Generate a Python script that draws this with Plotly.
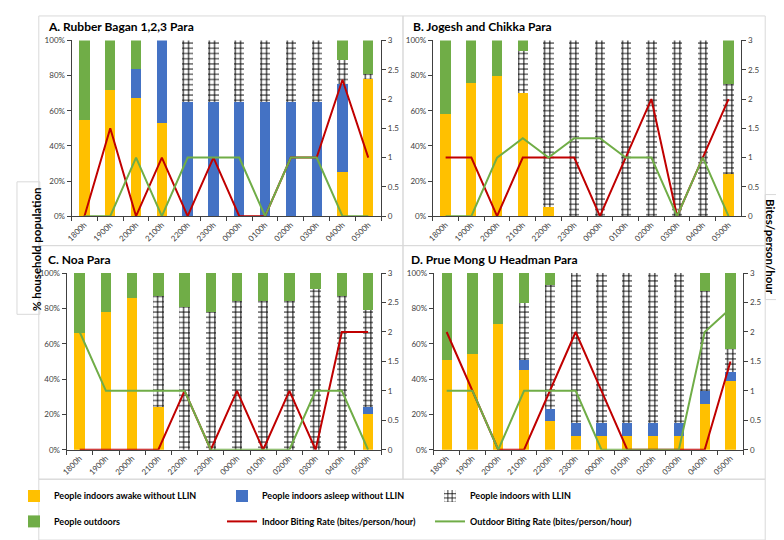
import plotly.graph_objects as go

hours = ["1800h", "1900h", "2000h", "2100h", "2200h", "2300h",
         "0000h", "0100h", "0200h", "0300h", "0400h", "0500h"]

# Panel A. Rubber Bagan 1,2,3 Para (fractions of household population)
a_awake = [0.55, 0.72, 0.67, 0.53, 0, 0, 0, 0, 0, 0, 0.25, 0.78]
a_asleep = [0, 0, 0.17, 0.47, 0.65, 0.65, 0.65, 0.65, 0.65, 0.65, 0.50, 0]
a_llin = [0, 0, 0, 0, 0.35, 0.35, 0.35, 0.35, 0.35, 0.35, 0.14, 0.03]
a_out = [0.45, 0.28, 0.16, 0, 0, 0, 0, 0, 0, 0, 0.11, 0.19]
a_indoor = [0, 1.5, 0, 1, 0, 1, 0, 0, 1, 1, 2.33, 1]
a_outdoor = [0, 0, 1, 0, 1, 1, 1, 0, 1, 1, 0, 0]

# Panel B. Jogesh and Chikka Para
b_awake = [0.58, 0.76, 0.80, 0.70, 0.05, 0, 0, 0, 0, 0, 0, 0.24]
b_asleep = [0] * 12
b_llin = [0, 0, 0, 0.24, 0.95, 1, 1, 1, 1, 1, 1, 0.51]
b_out = [0.42, 0.24, 0.20, 0.06, 0, 0, 0, 0, 0, 0, 0, 0.25]
b_indoor = [1, 1, 0, 1, 1, 1, 0, 1, 2, 0, 1, 2]
b_outdoor = [0, 0, 1, 1.33, 1, 1.33, 1.33, 1, 1, 0, 1, 0]

# Panel C. Noa Para
c_awake = [0.66, 0.78, 0.86, 0.24, 0, 0, 0, 0, 0, 0, 0, 0.20]
c_asleep = [0, 0, 0, 0, 0, 0, 0, 0, 0, 0, 0, 0.04]
c_llin = [0, 0, 0, 0.63, 0.81, 0.78, 0.84, 0.84, 0.84, 0.91, 0.87, 0.55]
c_out = [0.34, 0.22, 0.14, 0.13, 0.19, 0.22, 0.16, 0.16, 0.16, 0.09, 0.13, 0.21]
c_indoor = [0, 0, 0, 0, 1, 0, 1, 0, 1, 0, 2, 2]
c_outdoor = [2, 1, 1, 1, 1, 0, 0, 0, 0, 1, 1, 0]

# Panel D. Prue Mong U Headman Para
d_awake = [0.51, 0.54, 0.71, 0.45, 0.16, 0.08, 0.08, 0.08, 0.08, 0.08, 0.26, 0.39]
d_asleep = [0, 0, 0, 0.06, 0.07, 0.07, 0.07, 0.07, 0.07, 0.07, 0.07, 0.05]
d_llin = [0, 0, 0, 0.32, 0.70, 0.85, 0.85, 0.85, 0.85, 0.85, 0.57, 0.13]
d_out = [0.49, 0.46, 0.29, 0.17, 0.07, 0, 0, 0, 0, 0, 0.10, 0.43]
d_indoor = [2, 1, 0, 0, 1, 2, 1, 0, 0, 0, 0, 1.5]
d_outdoor = [1, 1, 0, 1, 1, 1, 0, 0, 0, 0, 2, 2.4]

titles = ["A. Rubber Bagan 1,2,3 Para", "B. Jogesh and Chikka Para",
          "C. Noa Para", "D. Prue Mong U Headman Para"]
names = ["People indoors awake without LLIN", "People indoors asleep without LLIN",
         "People indoors with LLIN", "People outdoors",
         "Indoor Biting Rate (bites/person/hour)", "Outdoor Biting Rate (bites/person/hour)"]

YELLOW = "#FFC000"
BLUE = "#4472C4"
GREEN = "#70AD47"
RED = "#C00000"
LGREEN = "#70AD47"

W, H = 784, 540
def px(x):
    return x / W
def py(y):
    return 1 - y / H

# plot-area boxes in pixels: (left, right, top, bottom)
areas = [(58, 370, 28, 207), (422, 733, 28, 207),
         (53, 370, 265, 445), (423, 735, 265, 445)]
title_pos = [(32, 14), (400, 14), (32, 251), (398, 251)]

panels = [
    (a_awake, a_asleep, a_llin, a_out, a_indoor, a_outdoor),
    (b_awake, b_asleep, b_llin, b_out, b_indoor, b_outdoor),
    (c_awake, c_asleep, c_llin, c_out, c_indoor, c_outdoor),
    (d_awake, d_asleep, d_llin, d_out, d_indoor, d_outdoor),
]

fig = go.Figure()
FONT = "Lato, Liberation Sans, sans-serif"

for i, (aw, asl, ll, out, ind, outd) in enumerate(panels):
    xa = "x" if i == 0 else f"x{i+1}"
    yl = "y" if i == 0 else f"y{2*i+1}"
    yr = f"y{2*i+2}"
    show = i == 0
    fig.add_trace(go.Bar(x=hours, y=aw, name=names[0], marker=dict(color=YELLOW, line=dict(width=0)),
                         xaxis=xa, yaxis=yl, showlegend=show, legendgroup="g0", legend="legend"))
    fig.add_trace(go.Bar(x=hours, y=asl, name=names[1], marker=dict(color=BLUE, line=dict(width=0)),
                         xaxis=xa, yaxis=yl, showlegend=show, legendgroup="g1", legend="legend"))
    fig.add_trace(go.Bar(x=hours, y=ll, name=names[2],
                         marker=dict(color="white", line=dict(width=0),
                                     pattern=dict(shape="+", size=5.2, solidity=0.35,
                                                  fgcolor="black", fgopacity=1, bgcolor="white")),
                         xaxis=xa, yaxis=yl, showlegend=show, legendgroup="g2", legend="legend"))
    fig.add_trace(go.Bar(x=hours, y=out, name=names[3], marker=dict(color=GREEN, line=dict(width=0)),
                         xaxis=xa, yaxis=yl, showlegend=show, legendgroup="g3", legend="legend2"))
    fig.add_trace(go.Scatter(x=hours, y=ind, name=names[4], mode="lines",
                             line=dict(color=RED, width=2), xaxis=xa, yaxis=yr,
                             showlegend=show, legendgroup="g4", legend="legend2"))
    fig.add_trace(go.Scatter(x=hours, y=outd, name=names[5], mode="lines",
                             line=dict(color=LGREEN, width=2), xaxis=xa, yaxis=yr,
                             showlegend=show, legendgroup="g5", legend="legend2"))

    l, r, t, b = areas[i]
    xkey = "xaxis" if i == 0 else f"xaxis{i+1}"
    ylkey = "yaxis" if i == 0 else f"yaxis{2*i+1}"
    yrkey = f"yaxis{2*i+2}"
    fig.layout[xkey] = dict(domain=[px(l), px(r)], anchor=yl, type="category",
                            tickangle=-45, tickson="boundaries", ticks="outside", ticklen=4,
                            tickcolor="#404040", showline=True, linecolor="#404040", linewidth=1,
                            tickfont=dict(size=8, color="#404040", family=FONT), showgrid=False)
    fig.layout[ylkey] = dict(domain=[py(b), py(t)], anchor=xa, range=[0, 1], dtick=0.2,
                             tickformat=".0%", ticks="outside", ticklen=4, tickcolor="#404040",
                             showline=True, linecolor="#404040", linewidth=1, showgrid=False,
                             zeroline=False, tickfont=dict(size=8, color="#404040", family=FONT))
    fig.layout[yrkey] = dict(overlaying=yl, side="right", anchor=xa, range=[0, 3], dtick=0.5,
                             ticks="outside", ticklen=4, tickcolor="#404040",
                             showline=True, linecolor="#404040", linewidth=1, showgrid=False,
                             zeroline=False, tickfont=dict(size=8, color="#404040", family=FONT))
    tx, ty = title_pos[i]
    fig.add_annotation(x=px(tx), y=py(ty), xref="paper", yref="paper", xanchor="left",
                       yanchor="middle", showarrow=False, text=f"<b>{titles[i]}</b>",
                       font=dict(size=12, color="black", family=FONT))

boxes = [(25, 392, 3, 237), (392, 757, 3, 237), (25, 392, 237, 475), (392, 757, 237, 475),
         (25, 757, 475, 537), (3, 26, 172, 307), (757, 784, 185, 292)]
for x0, x1, y0, y1 in boxes:
    fig.add_shape(type="rect", xref="paper", yref="paper", x0=px(x0), x1=px(x1),
                  y0=py(y1), y1=py(y0), line=dict(color="#D9D9D9", width=1), layer="below")

fig.add_annotation(x=px(14), y=py(240), xref="paper", yref="paper", showarrow=False,
                   text="<b>% household population</b>", textangle=-90,
                   font=dict(size=11.5, color="black", family=FONT))
fig.add_annotation(x=px(771), y=py(238), xref="paper", yref="paper", showarrow=False,
                   text="<b>Bites/person/hour</b>", textangle=90,
                   font=dict(size=11.5, color="black", family=FONT))

legfont = dict(size=9, color="black", family=FONT, weight="bold")
fig.update_layout(
    width=W, height=H, margin=dict(l=0, r=0, t=0, b=0),
    paper_bgcolor="white", plot_bgcolor="white",
    barmode="stack", bargap=0.6,
    legend=dict(orientation="h", x=0, y=py(492), xanchor="left", yanchor="middle",
                entrywidth=163, entrywidthmode="pixels", font=legfont,
                bgcolor="rgba(0,0,0,0)", itemwidth=30, traceorder="normal"),
    legend2=dict(orientation="h", x=0, y=py(518), xanchor="left", yanchor="middle",
                 entrywidth=163, entrywidthmode="pixels", font=legfont,
                 bgcolor="rgba(0,0,0,0)", itemwidth=30, traceorder="normal"),
)

fig.write_html("out.html")
